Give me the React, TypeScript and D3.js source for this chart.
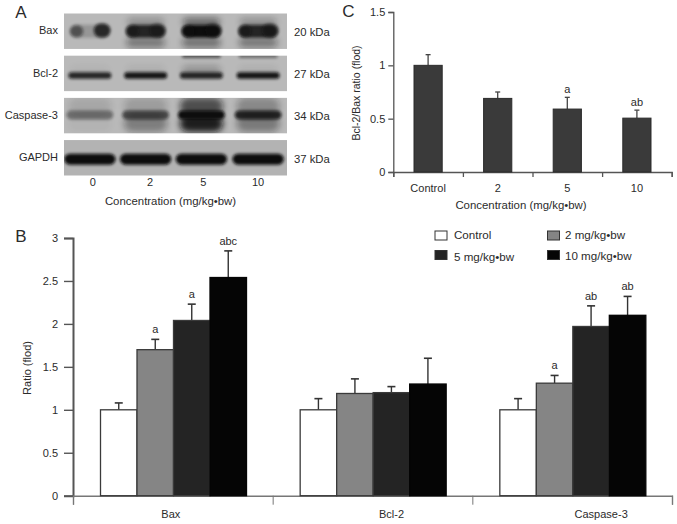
import React, { useEffect, useRef } from "react";
import * as d3 from "d3";

// panel A, western blot: band strength per lane, 0 = nothing, 1 = black
const lanes = ["0", "2", "5", "10"];
const kda = ["20 kDa", "27 kDa", "34 kDa", "37 kDa"];
const blotNames = ["Bax", "Bcl-2", "Caspase-3", "GAPDH"];
const baxMain = [0.2, 0.85, 1, 0.85];
const baxUpper = [0, 0.25, 0.5, 0.25];
const baxLeft = [0.5, 0.4, 0.45, 0.45];
const baxRight = [0.8, 0.4, 0.45, 0.5];
const baxLower = [0, 0.38, 0.42, 0.38];
const bcl2Main = [0.85, 0.95, 0.85, 0.95];
const bcl2Smear = [0.04, 0.06, 0.22, 0.06];
const bcl2Top = [0, 0, 0.6, 0.45];
const caspMain = [0.42, 0.62, 1, 0.85];
const caspLower = [0.03, 0.34, 0.9, 0.36];
const caspUpper = [0.1, 0.16, 0.62, 0.28];
const gapdhMain = [1, 1, 1, 1];

// panel B
const groups = ["Bax", "Bcl-2", "Caspase-3"];
const doses = ["Control", "2 mg/kg•bw", "5 mg/kg•bw", "10 mg/kg•bw"];
const doseFills = ["#ffffff", "#858585", "#242424", "#050505"];
const baxValues = [1.0, 1.7, 2.04, 2.54];
const baxTops = [1.08, 1.82, 2.23, 2.85];
const baxNotes = ["", "a", "a", "abc"];
const bcl2Values = [1.0, 1.19, 1.2, 1.3];
const bcl2Tops = [1.13, 1.36, 1.27, 1.6];
const bcl2Notes = ["", "", "", ""];
const caspValues = [1.0, 1.31, 1.97, 2.1];
const caspTops = [1.13, 1.4, 2.21, 2.32];
const caspNotes = ["", "a", "ab", "ab"];
const ratioTicks = [0, 0.5, 1, 1.5, 2, 2.5, 3];

// panel C
const ratioCats = ["Control", "2", "5", "10"];
const ratioValues = [1.0, 0.69, 0.59, 0.505];
const ratioTops = [1.1, 0.75, 0.7, 0.58];
const ratioNotes = ["", "", "a", "ab"];
const ratioCTicks = [0, 0.5, 1, 1.5];

const FONT = "'Liberation Sans', Arial, sans-serif";
const INK = "#2b2b2b";
const AXIS = "#555";

const App = () => {
  const svgRef = useRef<SVGSVGElement>(null);

  useEffect(() => {
    const svg = d3.select(svgRef.current);
    svg.selectAll("*").remove();
    svg.style("font-family", FONT);

    const label = (x, y, text, size = 11, anchor = "middle") =>
      svg
        .append("text")
        .attr("x", x)
        .attr("y", y)
        .attr("dy", "0.35em")
        .attr("text-anchor", anchor)
        .attr("font-size", size)
        .attr("fill", INK)
        .text(text);

    label(21, 12, "A", 17);
    label(21, 236, "B", 17);
    label(348.5, 11, "C", 17);

    //----- panel A
    const defs = svg.append("defs");
    defs.append("filter").attr("id", "soft").attr("x", "-20%").attr("y", "-80%").attr("width", "140%").attr("height", "260%")
      .append("feGaussianBlur").attr("stdDeviation", 1.5);
    defs.append("filter").attr("id", "softer").attr("x", "-20%").attr("y", "-80%").attr("width", "140%").attr("height", "260%")
      .append("feGaussianBlur").attr("stdDeviation", 3);

    const blotX = d3.scaleBand().domain(lanes).range([64, 287]);
    const blotY = d3.scaleBand().domain(blotNames).range([13.5, 175.5]).paddingInner(0.16);
    const laneCentre = (l) => blotX(l) + blotX.bandwidth() / 2 - 2 + (l === "10" ? 1 : 0);
    const laneLabelShift = [3, 4.5, 2, 0];

    // where each row sits inside its blot: y 0-1 of the blot, w = share of the lane
    const blotRows = {
      Bax: [
        { v: baxLower, y: 0.82, h: 10, w: 0.7, dx: 0, soft: "softer" },
        { v: baxUpper, y: 0.25, h: 8, w: 0.66, dx: 0, soft: "softer" },
        { v: baxMain, y: 0.5, h: 13, w: 0.7, dx: 0, soft: "soft" },
        { v: baxLeft, y: 0.5, h: 12, w: 0.24, dx: -0.24, soft: "soft" },
        { v: baxRight, y: 0.48, h: 14, w: 0.3, dx: 0.22, soft: "soft" },
      ],
      "Bcl-2": [
        { v: bcl2Smear, y: 0.42, h: 10, w: 0.7, dx: 0, soft: "softer" },
        { v: bcl2Top, y: 0.01, h: 4, w: 0.7, dx: 0, soft: "soft" },
        { v: bcl2Main, y: 0.56, h: 6.5, w: 0.77, dx: 0, soft: "soft" },
      ],
      "Caspase-3": [
        { v: caspUpper, y: 0.24, h: 18, w: 0.78, dx: 0, soft: "softer" },
        { v: caspLower, y: 0.72, h: 17, w: 0.78, dx: 0, soft: "softer" },
        { v: caspMain, y: 0.48, h: 9, w: 0.84, dx: 0, soft: "soft" },
      ],
      GAPDH: [{ v: gapdhMain, y: 0.54, h: 11, w: 0.92, dx: 0, soft: "soft" }],
    };

    blotNames.forEach((name, i) => {
      const top = blotY(name);
      const bh = blotY.bandwidth();
      const clipId = `blot-${i}`;
      defs.append("clipPath").attr("id", clipId).append("rect").attr("x", 64).attr("y", top).attr("width", 223).attr("height", bh);
      svg.append("rect").attr("x", 64).attr("y", top).attr("width", 223).attr("height", bh).attr("fill", i === 3 ? "#b3b3b3" : "#b9b9b9");
      const g = svg.append("g").attr("clip-path", `url(#${clipId})`);
      blotRows[name].forEach((row) => {
        lanes.forEach((l, j) => {
          if (!row.v[j]) return;
          const w = blotX.bandwidth() * row.w;
          g.append("rect")
            .attr("x", laneCentre(l) + row.dx * blotX.bandwidth() - w / 2)
            .attr("y", top + bh * row.y - row.h / 2)
            .attr("width", w)
            .attr("height", row.h)
            .attr("rx", row.h / 2)
            .attr("fill", "#0c0c0c")
            .attr("opacity", row.v[j])
            .attr("filter", `url(#${row.soft})`);
        });
      });
      label(58, top + 16.5 + (i === 0 ? 0 : 0.5), name, 11, "end");
      label(294, top + 18.5, kda[i], 11.3, "start");
    });

    lanes.forEach((l, i) => label(laneCentre(l) + laneLabelShift[i], 182, l, 11));
    label(170.5, 201, "Concentration (mg/kg•bw)", 11.4);

    //----- panel B
    const yB = d3.scaleLinear().domain([0, 3]).range([495.7, 238]);
    const edgesB = d3.scaleLinear().domain([0, groups.length]).range([73, 672]);
    const xB = d3.scaleBand().domain(groups).range([73, 672]);
    const xDose = d3.scaleBand().domain(doses).range([27.5, 173.5]);

    const axisYB = svg
      .append("g")
      .attr("transform", "translate(73,0)")
      .call(d3.axisLeft(yB).tickValues(ratioTicks).tickFormat(d3.format("~g")).tickSize(9).tickPadding(6));
    axisYB.selectAll("path,line").attr("stroke", AXIS);
    axisYB.select("path").attr("stroke-width", 2);
    axisYB.selectAll("line").attr("stroke-width", 1.4);
    axisYB.selectAll("text").attr("font-size", 11).attr("font-family", FONT).attr("fill", INK);

    const axisXB = svg
      .append("g")
      .attr("transform", "translate(0,495.7)")
      .call(d3.axisBottom(edgesB).tickValues(d3.range(groups.length + 1)).tickFormat(() => "").tickSize(9));
    axisXB.selectAll("path,line").attr("stroke", "#777");
    axisXB.select("path").attr("stroke-width", 1.4);

    const groupData = [
      { values: baxValues, tops: baxTops, notes: baxNotes },
      { values: bcl2Values, tops: bcl2Tops, notes: bcl2Notes },
      { values: caspValues, tops: caspTops, notes: caspNotes },
    ];
    // the labels are not centred under the groups in the original
    const groupLabelShift = [-2, 19, 29];

    groups.forEach((group, i) => {
      const d = groupData[i];
      doses.forEach((dose, j) => {
        const x = xB(group) + xDose(dose);
        const w = xDose.bandwidth();
        const mid = x + w / 2;
        svg.append("line").attr("x1", mid).attr("x2", mid).attr("y1", yB(d.values[j])).attr("y2", yB(d.tops[j])).attr("stroke", "#333").attr("stroke-width", 1.4);
        svg.append("line").attr("x1", mid - 4).attr("x2", mid + 4).attr("y1", yB(d.tops[j])).attr("y2", yB(d.tops[j])).attr("stroke", "#333").attr("stroke-width", 1.6);
        svg.append("rect")
          .attr("x", x)
          .attr("y", yB(d.values[j]))
          .attr("width", w)
          .attr("height", yB(0) - yB(d.values[j]))
          .attr("fill", doseFills[j])
          .attr("stroke", j === 3 ? "#050505" : "#3a3a3a")
          .attr("stroke-width", 1.3);
        if (d.notes[j]) label(mid, yB(d.tops[j]) - 10, d.notes[j], 11);
      });
      label(xB(group) + xB.bandwidth() / 2 + groupLabelShift[i], 514, group, 11);
    });

    const legendX = d3.scaleOrdinal<number, number>().domain([0, 1]).range([435, 547.5]);
    const legendY = d3.scaleOrdinal<number, number>().domain([0, 1]).range([231, 250.5]);
    doses.forEach((dose, i) => {
      const col = i % 2;
      const row = Math.floor(i / 2);
      svg.append("rect")
        .attr("x", legendX(col))
        .attr("y", legendY(row))
        .attr("width", 12)
        .attr("height", 9)
        .attr("fill", doseFills[i])
        .attr("stroke", "#333")
        .attr("stroke-width", 1);
      label(legendX(col) + (col ? 17.5 : 19), legendY(row) + (row ? 5.5 : 3.5) + (i === 2 ? 1 : 0), dose, 11.6, "start");
    });

    svg.append("text")
      .attr("transform", "translate(27,368) rotate(-90)")
      .attr("dy", "0.35em")
      .attr("text-anchor", "middle")
      .attr("font-size", 11)
      .attr("fill", INK)
      .text("Ratio (flod)");

    //----- panel C
    const yC = d3.scaleLinear().domain([0, 1.5]).range([172, 12]);
    const xC = d3.scaleBand().domain(ratioCats).range([393.3, 671.7]).paddingInner(0.595).paddingOuter(0.2975);
    const edgesC = d3.scaleLinear().domain([0, ratioCats.length]).range([393.3, 671.7]);

    const axisYC = svg
      .append("g")
      .attr("transform", "translate(393.3,0)")
      .call(d3.axisLeft(yC).tickValues(ratioCTicks).tickFormat(d3.format("~g")).tickSize(5).tickPadding(3));
    axisYC.selectAll("path,line").attr("stroke", AXIS).attr("stroke-width", 1.3);
    axisYC.selectAll("text").attr("font-size", 11).attr("font-family", FONT).attr("fill", INK);

    const axisXC = svg
      .append("g")
      .attr("transform", "translate(0,172)")
      .call(d3.axisBottom(edgesC).tickValues(d3.range(ratioCats.length + 1)).tickFormat(() => "").tickSize(5));
    axisXC.selectAll("path,line").attr("stroke", AXIS).attr("stroke-width", 1.3);

    ratioCats.forEach((cat, i) => {
      const x = xC(cat);
      const mid = x + xC.bandwidth() / 2;
      svg.append("line").attr("x1", mid).attr("x2", mid).attr("y1", yC(ratioValues[i])).attr("y2", yC(ratioTops[i])).attr("stroke", "#444").attr("stroke-width", 1.3);
      svg.append("line").attr("x1", mid - 2.5).attr("x2", mid + 2.5).attr("y1", yC(ratioTops[i])).attr("y2", yC(ratioTops[i])).attr("stroke", "#444").attr("stroke-width", 1.3);
      svg.append("rect")
        .attr("x", x)
        .attr("y", yC(ratioValues[i]))
        .attr("width", xC.bandwidth())
        .attr("height", yC(0) - yC(ratioValues[i]))
        .attr("fill", "#3a3a3a")
        .attr("stroke", "#2b2b2b")
        .attr("stroke-width", 1);
      if (ratioNotes[i]) label(mid, yC(ratioTops[i]) - 8, ratioNotes[i], 11);
      label(mid, 188, cat, 11);
    });

    label(521, 205, "Concentration (mg/kg•bw)", 11.4);
    svg.append("text")
      .attr("transform", "translate(356,93) rotate(-90)")
      .attr("dy", "0.35em")
      .attr("text-anchor", "middle")
      .attr("font-size", 10.5)
      .attr("fill", INK)
      .text("Bcl-2/Bax ratio (flod)");
  }, []);

  return (
    <svg
      ref={svgRef}
      width={677}
      height={524}
      style={{ position: "absolute", left: 0, top: 0, background: "#fff" }}
    />
  );
};

export default App;
